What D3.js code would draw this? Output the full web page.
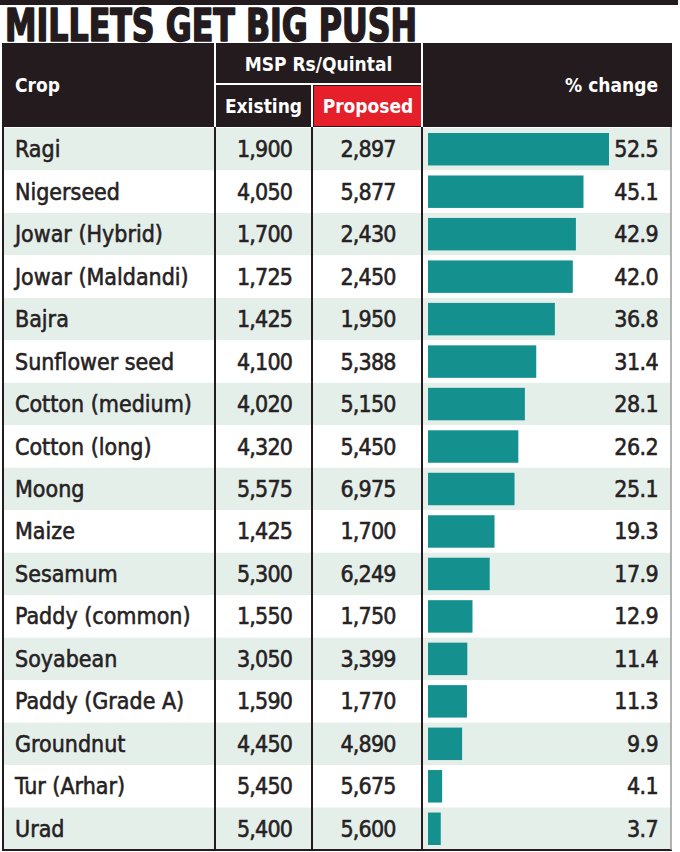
<!DOCTYPE html>
<html>
<head>
<meta charset="utf-8">
<script src="https://cdn.jsdelivr.net/npm/d3@7"></script>
<style>
  html, body { margin: 0; padding: 0; background: #ffffff; }
  svg { display: block; }
</style>
</head>
<body>
<svg id="chart" width="680" height="852"></svg>
<script>
// ---- data ----
const title = "MILLETS GET BIG PUSH";
const headers = { crop: "Crop", msp: "MSP Rs/Quintal", existing: "Existing", proposed: "Proposed", change: "% change" };
const crops = ["Ragi", "Nigerseed", "Jowar (Hybrid)", "Jowar (Maldandi)", "Bajra", "Sunflower seed",
  "Cotton (medium)", "Cotton (long)", "Moong", "Maize", "Sesamum", "Paddy (common)", "Soyabean",
  "Paddy (Grade A)", "Groundnut", "Tur (Arhar)", "Urad"];
const existing = [1900, 4050, 1700, 1725, 1425, 4100, 4020, 4320, 5575, 1425, 5300, 1550, 3050, 1590, 4450, 5450, 5400];
const proposed = [2897, 5877, 2430, 2450, 1950, 5388, 5150, 5450, 6975, 1700, 6249, 1750, 3399, 1770, 4890, 5675, 5600];
const pctChange = [52.5, 45.1, 42.9, 42.0, 36.8, 31.4, 28.1, 26.2, 25.1, 19.3, 17.9, 12.9, 11.4, 11.3, 9.9, 4.1, 3.7];

// ---- layout ----
const svg = d3.select("#chart");
const dark = "#231b1d", red = "#e5202b", teal = "#14908f", tint = "#e5efea", ink = "#262223";
const L = 3, R = 671, colA = 215, colB = 312, colC = 422;
const headTop = 43, headMid = 84, headBot = 127, bodyTop = 128, bodyBot = 850;
const fontStack = '"DejaVu Sans Condensed", "Liberation Sans Narrow", sans-serif';

const rows = crops.map((c, i) => ({ crop: c, ex: existing[i], pr: proposed[i], pct: pctChange[i], i }));

const y = d3.scaleBand().domain(crops).range([bodyTop, bodyBot]).paddingInner(0).paddingOuter(0);
const x = d3.scaleLinear().domain([0, 52.5]).range([428, 609]);
const fmt = d3.format(",");
const fmt1 = d3.format(".1f");

// top rule
svg.append("rect").attr("x", 0).attr("y", 0).attr("width", 678).attr("height", 5).attr("fill", dark);

// title
svg.append("text").attr("x", 5).attr("y", 41)
  .attr("font-family", fontStack)
  .attr("font-weight", "bold").attr("font-size", 44).attr("fill", dark)
  .attr("stroke", dark).attr("stroke-width", 1.6).attr("stroke-linejoin", "round")
  .attr("textLength", 412).attr("lengthAdjust", "spacingAndGlyphs")
  .text(title);

// header block
svg.append("rect").attr("x", L).attr("y", headTop).attr("width", R + 1 - L).attr("height", headBot - headTop).attr("fill", dark);
svg.append("rect").attr("x", colB + 2).attr("y", headMid + 2).attr("width", colC - colB - 3).attr("height", headBot - headMid - 3).attr("fill", red);
const wl = svg.append("g").attr("stroke", "#ffffff").attr("stroke-width", 2);
wl.append("line").attr("x1", colA).attr("x2", colA).attr("y1", headTop).attr("y2", headBot);
wl.append("line").attr("x1", colC).attr("x2", colC).attr("y1", headTop).attr("y2", headBot);
wl.append("line").attr("x1", colA).attr("x2", colC).attr("y1", headMid).attr("y2", headMid);
wl.append("line").attr("x1", colB).attr("x2", colB).attr("y1", headMid).attr("y2", headBot);

const ht = svg.append("g").attr("fill", "#ffffff").attr("font-family", fontStack).attr("font-weight", "bold").attr("font-size", 19);
ht.append("text").attr("x", 15).attr("y", 92).text(headers.crop);
ht.append("text").attr("x", (colA + colC) / 2).attr("y", 71).attr("text-anchor", "middle").text(headers.msp);
ht.append("text").attr("x", (colA + colB) / 2).attr("y", 113).attr("text-anchor", "middle").text(headers.existing);
ht.append("text").attr("x", (colB + colC) / 2 + 1).attr("y", 113).attr("text-anchor", "middle").text(headers.proposed);
ht.append("text").attr("x", 658).attr("y", 92).attr("text-anchor", "end").text(headers.change);

// body rows
const g = svg.append("g");
g.selectAll("rect.row").data(rows).join("rect").attr("class", "row")
  .attr("x", L).attr("width", R - L).attr("y", d => y(d.crop)).attr("height", y.bandwidth())
  .attr("fill", d => d.i % 2 === 0 ? tint : "#ffffff");

// bars
g.selectAll("rect.bar").data(rows).join("rect").attr("class", "bar")
  .attr("x", x(0)).attr("y", d => y(d.crop) + 5).attr("height", y.bandwidth() - 10)
  .attr("width", d => x(d.pct) - x(0)).attr("fill", teal);

// text cells
const tg = svg.append("g").attr("fill", ink).attr("stroke", ink).attr("stroke-width", 0.55)
  .attr("font-family", fontStack).attr("font-size", 23);
const base = d => y(d.crop) + y.bandwidth() / 2 + 8;
tg.selectAll("text.crop").data(rows).join("text").attr("class", "crop")
  .attr("x", 15).attr("y", base).text(d => d.crop);
tg.selectAll("text.ex").data(rows).join("text").attr("class", "ex")
  .attr("x", (colA + colB) / 2 + 1).attr("y", base).attr("text-anchor", "middle")
  .attr("letter-spacing", -0.8).text(d => fmt(d.ex));
tg.selectAll("text.pr").data(rows).join("text").attr("class", "pr")
  .attr("x", (colB + colC) / 2 + 1).attr("y", base).attr("text-anchor", "middle")
  .attr("letter-spacing", -0.8).text(d => fmt(d.pr));
tg.selectAll("text.pct").data(rows).join("text").attr("class", "pct")
  .attr("x", 658).attr("y", base).attr("text-anchor", "end")
  .attr("letter-spacing", -0.6).text(d => fmt1(d.pct));

// grid lines
const bl = svg.append("g").attr("stroke", dark).attr("stroke-width", 2);
[colA, colB, colC].forEach(cx => bl.append("line").attr("x1", cx).attr("x2", cx).attr("y1", headBot).attr("y2", bodyBot));
bl.append("line").attr("x1", L).attr("x2", L).attr("y1", headTop).attr("y2", bodyBot + 1);
bl.append("line").attr("x1", L - 1).attr("x2", R + 1).attr("y1", bodyBot).attr("y2", bodyBot);
svg.append("line").attr("x1", R).attr("x2", R).attr("y1", headBot).attr("y2", bodyBot)
  .attr("stroke", "#9a9a9a").attr("stroke-width", 1.5);
</script>
</body>
</html>
